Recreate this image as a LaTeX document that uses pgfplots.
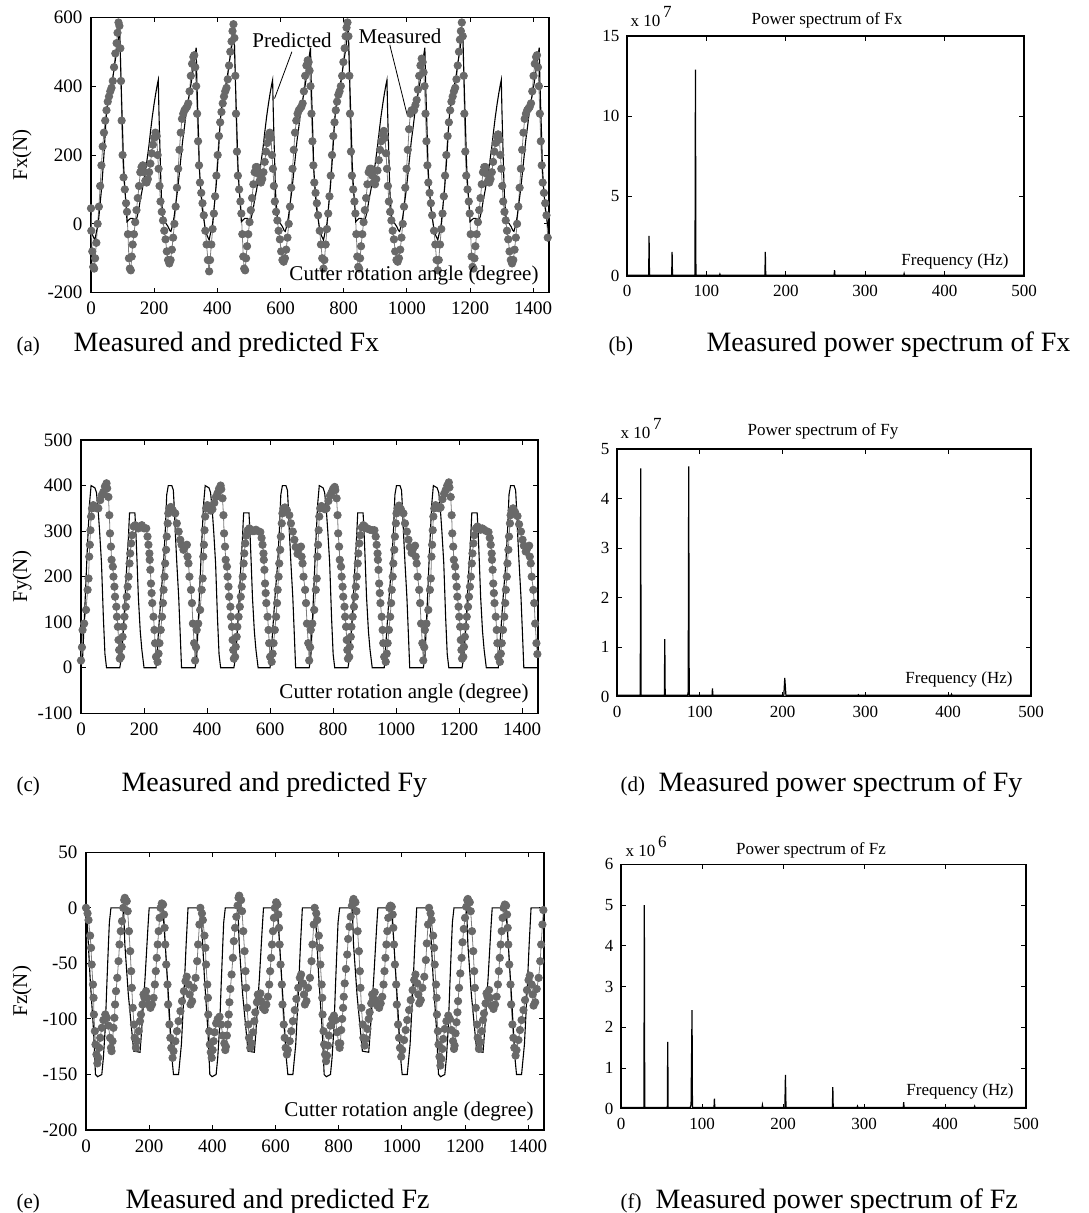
\documentclass[border=0pt]{standalone}
\usepackage{fontspec}
\setmainfont{Liberation Serif}
\usepackage{pgfplots}
\pgfplotsset{compat=1.18}
\definecolor{mgray}{RGB}{105,105,105}
\definecolor{lgray}{RGB}{125,125,125}
\pgfplotsset{
  panel/.style={scale only axis, axis line style={black, line width=1.1pt},
    every tick/.style={black, line width=0.9pt}, tick align=inside, major tick length=5pt,
    xtick pos=both, ytick pos=both, xticklabel pos=lower, yticklabel pos=left,
    /pgf/number format/assume math mode=true, /pgf/number format/1000 sep={}},
  leftp/.style={panel, xmin=0, xmax=1450, xtick={0,200,...,1400},
    ticklabel style={font=\fontsize{19}{19}\selectfont},
    xticklabel style={yshift=-6pt}, yticklabel style={xshift=-5pt}},
  spec/.style={panel, xmin=0, xmax=500, xtick={0,100,...,500}, ymin=0,
    ticklabel style={font=\fontsize{17}{17}\selectfont},
    xticklabel style={yshift=-6pt}, yticklabel style={xshift=-4pt}},
  meas/.style={color=lgray, line width=0.8pt, mark=*, mark size=3.7pt, mark options={fill=mgray, draw=mgray}},
  pred/.style={black, line width=1.1pt, mark=none},
  sp/.style={black, line width=1.2pt, mark=none}
}
\newcommand{\labf}{\fontsize{21}{21}\selectfont}
\newcommand{\capf}{\fontsize{28}{28}\selectfont}
\newcommand{\plabf}{\fontsize{21}{21}\selectfont}
\newcommand{\stx}{\fontsize{17}{17}\selectfont}
\begin{document}
\begin{tikzpicture}
\path[use as bounding box] (0,0) rectangle (1088pt,-1213pt);
% ---------------- (a)
\begin{axis}[leftp, at={(91pt,-292.7pt)}, anchor=south west, width=458pt, height=275.4pt,
  ymin=-200, ymax=600, ytick={-200,0,200,400,600}]
\addplot[meas] coordinates {
(0,45)(1,-20)(4,-80)(7,-125)(10,-130)(13,-100)(17,-55)(21,0)(25,50)(29,110)(33,170)(37,225)(41,265)(45,300)(49,330)(53,355)(57,370)(61,385)(65,395)(69,415)(73,455)(77,495)(81,525)(84,555)(87,585)(90,575)(93,510)(95,415)(97,300)(100,200)(103,135)(107,100)(111,60)(114,35)(117,-30)(120,-100)(123,-130)(126,-135)(129,-95)(132,-60)(136,-30)(140,5)(144,40)(148,75)(152,110)(156,150)(160,165)(164,170)(168,150)(172,125)(176,120)(180,130)(184,150)(188,175)(192,205)(196,230)(200,250)(204,265)(208,255)(211,200)(214,160)(217,110)(220,65)(224,35)(228,10)(232,-20)(236,-45)(240,-80)(244,-105)(248,-115)(252,-105)(256,-75)(260,-40)(264,0)(268,50)(272,105)(276,160)(280,215)(284,265)(288,305)(292,320)(296,330)(300,335)(304,340)(308,350)(312,385)(316,430)(320,465)(324,485)(327,490)(330,455)(333,400)(336,320)(339,240)(342,170)(345,120)(349,90)(353,60)(357,25)
(362,-20)(366,-60)(370,-105)(374,-138)(377,-105)(381,-60)(385,-15)(389,30)(393,80)(397,140)(401,200)(405,255)(409,295)(413,325)(417,350)(421,370)(425,385)(429,395)(433,420)(437,460)(441,500)(445,530)(448,560)(451,580)(454,540)(457,430)(459,320)(462,210)(465,140)(469,100)(473,65)(476,30)(479,-30)(482,-95)(485,-130)(488,-135)(491,-100)(494,-65)(498,-30)(502,5)(506,40)(510,75)(514,115)(518,150)(522,165)(526,165)(530,145)(534,125)(538,120)(542,130)(546,150)(550,180)(554,210)(558,235)(562,255)(566,265)(570,250)(573,200)(576,160)(579,110)(582,65)(586,35)(590,10)(594,-20)(598,-45)(602,-80)(606,-105)(610,-110)(614,-100)(618,-75)(622,-40)(626,0)(630,50)(634,105)(638,160)(642,215)(646,265)(650,300)(654,320)(658,330)(662,335)(666,340)(670,350)(674,385)(678,430)(682,460)(686,475)(689,470)(692,445)(695,400)(698,320)(701,240)(704,170)(707,120)(711,90)(715,60)(719,25)
(724,-20)(728,-60)(732,-100)(736,-130)(739,-105)(743,-60)(747,-15)(751,30)(755,80)(759,140)(763,200)(767,255)(771,295)(775,330)(779,355)(783,375)(787,385)(791,400)(795,430)(799,470)(803,510)(806,545)(809,570)(812,585)(815,545)(818,430)(820,320)(823,210)(826,140)(830,100)(834,65)(837,30)(840,-30)(843,-95)(846,-125)(849,-130)(852,-100)(855,-65)(859,-30)(863,5)(867,40)(871,75)(875,115)(879,150)(883,160)(887,160)(891,140)(895,120)(899,115)(903,130)(907,155)(911,185)(915,215)(919,240)(923,260)(927,270)(931,250)(934,205)(937,160)(940,110)(943,65)(947,35)(951,10)(955,-20)(959,-45)(963,-80)(967,-105)(971,-110)(975,-100)(979,-75)(983,-40)(987,0)(991,50)(995,105)(999,160)(1003,215)(1007,275)(1011,320)(1015,330)(1019,330)(1023,330)(1027,345)(1031,360)(1035,390)(1039,430)(1043,460)(1047,480)(1050,470)(1053,440)(1056,400)(1059,320)(1062,240)(1065,170)(1068,120)(1072,90)(1076,60)(1080,25)
(1086,-20)(1090,-60)(1094,-105)(1098,-135)(1101,-105)(1105,-60)(1109,-15)(1113,30)(1117,80)(1121,140)(1125,200)(1129,255)(1133,295)(1137,330)(1141,355)(1145,370)(1149,385)(1153,395)(1157,420)(1161,460)(1165,500)(1168,535)(1171,560)(1174,585)(1177,545)(1180,430)(1182,320)(1185,210)(1188,140)(1192,100)(1196,65)(1199,30)(1202,-30)(1205,-95)(1208,-125)(1211,-130)(1214,-100)(1217,-65)(1221,-30)(1225,5)(1229,40)(1233,75)(1237,115)(1241,150)(1245,165)(1249,165)(1253,145)(1257,125)(1261,120)(1265,130)(1269,150)(1273,180)(1277,210)(1281,235)(1285,255)(1289,260)(1293,245)(1296,200)(1299,160)(1302,110)(1305,65)(1309,35)(1313,10)(1317,-20)(1321,-45)(1325,-80)(1329,-105)(1333,-115)(1337,-105)(1341,-75)(1345,-40)(1349,0)(1353,50)(1357,105)(1361,160)(1365,215)(1369,265)(1373,305)(1377,320)(1381,330)(1385,335)(1389,340)(1393,350)(1397,385)(1401,430)(1405,465)(1409,485)(1412,490)(1415,455)(1418,400)(1421,320)(1424,240)(1427,170)(1430,120)(1434,90)(1438,60)(1442,25)(1446,-40)
};
\addplot[pred] coordinates {
(0,-18)(6,-35)(12,-47)(18,-20)(23,1)(28,50)(34,108)(38,160)(42,215)(46,280)(50,330)(55,360)(61,389)(66,410)(71,437)(76,470)(82,505)(87,540)(90,568)(92,524)(95,420)(98,330)(101,240)(103,176)(106,120)(109,79)(112,40)(114,6)(119,11)(125,16)(133,16)(137,10)(141,6)(146,20)(151,40)(156,70)(162,98)(167,125)(173,156)(178,190)(183,224)(188,265)(194,311)(200,350)(205,379)(210,405)(213,418)(215,330)(217,260)(219,195)(221,130)(223,79)(226,40)(229,11)(233,5)(237,2)(244,-8)(250,-20)(253,-22)(258,-5)(263,20)(268,55)(274,98)(280,150)(285,195)(290,240)(296,282)(301,320)(306,350)(311,375)(317,408)(322,440)(327,476)(333,512)(335,420)(338,330)(341,240)(343,166)(346,120)(349,79)(352,45)(356,21)
(362,-18)(368,-35)(374,-47)(380,-20)(385,1)(390,50)(396,108)(400,160)(404,215)(408,280)(412,330)(417,360)(423,389)(428,410)(433,437)(438,470)(444,505)(449,540)(452,568)(454,524)(457,420)(460,330)(463,240)(465,176)(468,120)(471,79)(474,40)(476,6)(481,11)(487,16)(495,16)(499,10)(503,6)(508,20)(513,40)(518,70)(524,98)(529,125)(535,156)(540,190)(545,224)(550,265)(556,311)(562,350)(567,379)(572,405)(575,418)(577,330)(579,260)(581,195)(583,130)(585,79)(588,40)(591,11)(595,5)(599,2)(606,-8)(612,-20)(615,-22)(620,-5)(625,20)(630,55)(636,98)(642,150)(647,195)(652,240)(658,282)(663,320)(668,350)(673,375)(679,408)(684,440)(689,476)(695,512)(697,420)(700,330)(703,240)(705,166)(708,120)(711,79)(714,45)(718,21)
(724,-18)(730,-35)(736,-47)(742,-20)(747,1)(752,50)(758,108)(762,160)(766,215)(770,280)(774,330)(779,360)(785,389)(790,410)(795,437)(800,470)(806,505)(811,540)(814,568)(816,524)(819,420)(822,330)(825,240)(827,176)(830,120)(833,79)(836,40)(838,6)(843,11)(849,16)(857,16)(861,10)(865,6)(870,20)(875,40)(880,70)(886,98)(891,125)(897,156)(902,190)(907,224)(912,265)(918,311)(924,350)(929,379)(934,405)(937,418)(939,330)(941,260)(943,195)(945,130)(947,79)(950,40)(953,11)(957,5)(961,2)(968,-8)(974,-20)(977,-22)(982,-5)(987,20)(992,55)(998,98)(1004,150)(1009,195)(1014,240)(1020,282)(1025,320)(1030,350)(1035,375)(1041,408)(1046,440)(1051,476)(1057,512)(1059,420)(1062,330)(1065,240)(1067,166)(1070,120)(1073,79)(1076,45)(1080,21)
(1086,-18)(1092,-35)(1098,-47)(1104,-20)(1109,1)(1114,50)(1120,108)(1124,160)(1128,215)(1132,280)(1136,330)(1141,360)(1147,389)(1152,410)(1157,437)(1162,470)(1168,505)(1173,540)(1176,568)(1178,524)(1181,420)(1184,330)(1187,240)(1189,176)(1192,120)(1195,79)(1198,40)(1200,6)(1205,11)(1211,16)(1219,16)(1223,10)(1227,6)(1232,20)(1237,40)(1242,70)(1248,98)(1253,125)(1259,156)(1264,190)(1269,224)(1274,265)(1280,311)(1286,350)(1291,379)(1296,405)(1299,418)(1301,330)(1303,260)(1305,195)(1307,130)(1309,79)(1312,40)(1315,11)(1319,5)(1323,2)(1330,-8)(1336,-20)(1339,-22)(1344,-5)(1349,20)(1354,55)(1360,98)(1366,150)(1371,195)(1376,240)(1382,282)(1387,320)(1392,350)(1397,375)(1403,408)(1408,440)(1413,476)(1419,512)(1421,420)(1424,330)(1427,240)(1429,166)(1432,120)(1435,79)(1438,45)(1442,21)(1448,-18)
};
\draw[black, line width=0.8pt] (axis cs:636,500) -- (axis cs:581,364);
\draw[black, line width=0.8pt] (axis cs:946,520) -- (axis cs:1000,320);
\end{axis}
\node[font=\labf] at (292pt,-40.7pt) {Predicted};
\node[font=\labf] at (400pt,-36pt) {Measured};
\node[font=\labf, anchor=east] at (542pt,-275pt) {Cutter rotation angle (degree)};
\node[font=\labf, rotate=90] at (22pt,-155pt) {Fx(N)};
% ---------------- (b)
\begin{axis}[spec, at={(627pt,-276pt)}, anchor=south west, width=397pt, height=240pt,
  ymax=15, ytick={0,5,10,15}]
\addplot[sp] coordinates {(0,0.05)(27.3,0.05)(27.8,2.5)(28.3,0.05)(56.3,0.05)(56.8,1.5)(57.3,0.05)(85.6,0.05)(86.2,12.9)(86.8,0.05)(116.5,0.05)(117,0.12)(117.5,0.05)(173.7,0.05)(174.2,1.5)(174.7,0.05)(260.9,0.05)(261.4,0.37)(261.9,0.05)(348.5,0.05)(349,0.15)(349.5,0.05)(500,0.05)};
\end{axis}
\node[font=\stx, anchor=base west] at (627pt,-26pt) {x 10\,\raisebox{9pt}{7}};
\node[font=\stx] at (827pt,-20pt) {Power spectrum of Fx};
\node[font=\stx] at (955pt,-261pt) {Frequency (Hz)};
% ---------------- (c)
\begin{axis}[leftp, at={(81pt,-713.3pt)}, anchor=south west, width=457pt, height=273.3pt,
  ymin=-100, ymax=500, ytick={-100,0,...,500}]
\addplot[meas] coordinates {
(0,16)(3,45)(5,83)(10,97)(16,127)(21,171)(24,196)(26,244)(28,270)(30,302)(32,332)(35,350)(39,357)(44,354)(50,350)(55,350)(61,368)(66,379)(71,386)(76,398)(81,405)(83,394)(87,375)(90,335)(92,295)(95,266)(97,237)(101,222)(103,200)(106,178)(108,156)(112,134)(114,112)(117,90)(119,61)(121,39)(123,20)(127,24)(129,46)(132,68)(134,90)(138,112)(142,134)(145,156)(148,178)(151,200)(154,229)(156,251)(159,273)(162,291)(167,310)(172,313)(177,310)(182,306)(187,310)(193,313)(200,306)(207,306)(211,288)(214,270)(217,251)(218,237)(220,215)(222,185)(224,164)(226,142)(230,112)(233,83)(235,54)(238,24)(243,13)(246,31)(249,54)(253,83)(257,112)(260,142)(262,171)(265,200)(267,229)(270,259)(272,288)(275,317)(277,339)(280,350)(285,353)(291,346)(299,339)(304,317)(310,299)(315,281)(319,270)(325,259)(330,266)(336,270)(338,244)(341,229)(344,200)(349,171)(352,142)(355,97)(359,54)
(362,16)(365,45)(367,83)(372,97)(378,127)(383,171)(386,196)(388,244)(390,270)(392,302)(394,332)(397,350)(401,357)(406,352)(412,345)(417,348)(423,362)(428,375)(433,383)(438,393)(443,400)(445,392)(449,372)(452,335)(454,295)(457,266)(459,237)(463,222)(465,200)(468,178)(470,156)(474,134)(476,112)(479,90)(481,61)(483,39)(485,20)(489,24)(491,46)(494,68)(496,90)(500,112)(504,134)(507,156)(510,178)(513,200)(516,229)(518,251)(521,273)(524,290)(529,302)(534,306)(539,303)(544,300)(549,300)(555,303)(562,300)(569,298)(573,285)(576,270)(579,251)(580,237)(582,215)(584,185)(586,164)(588,142)(592,112)(595,83)(597,54)(600,24)(605,13)(608,31)(611,54)(615,83)(619,112)(622,142)(624,171)(627,200)(629,229)(632,259)(634,288)(637,317)(639,339)(642,350)(647,352)(653,346)(661,335)(666,317)(672,299)(677,281)(681,265)(687,250)(692,262)(698,266)(700,244)(703,229)(706,200)(711,171)(714,142)(717,97)(721,54)
(724,16)(727,45)(729,83)(734,97)(740,127)(745,171)(748,196)(750,244)(752,270)(754,302)(756,332)(759,350)(763,355)(768,352)(774,348)(779,350)(785,366)(790,378)(795,385)(800,393)(805,397)(807,390)(811,372)(814,335)(816,295)(819,266)(821,237)(825,222)(827,200)(830,178)(832,156)(836,134)(838,112)(841,90)(843,61)(845,39)(847,20)(851,24)(853,46)(856,68)(858,90)(862,112)(866,134)(869,156)(872,178)(875,200)(878,229)(880,251)(883,273)(886,291)(891,308)(896,313)(901,310)(906,306)(911,305)(917,303)(924,302)(931,302)(935,288)(938,270)(941,251)(942,237)(944,215)(946,185)(948,164)(950,142)(954,112)(957,83)(959,54)(962,24)(967,13)(970,31)(973,54)(977,83)(981,112)(984,142)(986,171)(989,200)(991,229)(994,259)(996,288)(999,317)(1001,339)(1004,350)(1009,356)(1015,348)(1023,339)(1028,317)(1034,299)(1039,281)(1043,265)(1049,252)(1054,262)(1060,268)(1062,244)(1065,229)(1068,200)(1073,171)(1076,142)(1079,97)(1083,54)
(1086,16)(1089,45)(1091,83)(1096,97)(1102,127)(1107,171)(1110,196)(1112,244)(1114,270)(1116,302)(1118,332)(1121,350)(1125,357)(1130,354)(1136,350)(1141,352)(1147,370)(1152,382)(1157,390)(1162,400)(1167,407)(1169,396)(1173,375)(1176,335)(1178,295)(1181,266)(1183,237)(1187,222)(1189,200)(1192,178)(1194,156)(1198,134)(1200,112)(1203,90)(1205,61)(1207,39)(1209,20)(1213,24)(1215,46)(1218,68)(1220,90)(1224,112)(1228,134)(1231,156)(1234,178)(1237,200)(1240,229)(1242,251)(1245,273)(1248,291)(1253,306)(1258,310)(1263,306)(1268,303)(1273,306)(1279,303)(1286,300)(1293,298)(1297,285)(1300,270)(1303,251)(1304,237)(1306,215)(1308,185)(1310,164)(1312,142)(1316,112)(1319,83)(1321,54)(1324,24)(1329,13)(1332,31)(1335,54)(1339,83)(1343,112)(1346,142)(1348,171)(1351,200)(1353,229)(1356,259)(1358,288)(1361,317)(1363,335)(1366,345)(1371,350)(1377,342)(1385,333)(1390,315)(1396,299)(1401,281)(1405,268)(1411,255)(1416,262)(1422,268)(1424,244)(1427,229)(1430,200)(1435,171)(1438,142)(1441,97)(1445,54)(1448,30)
};
\addplot[pred] coordinates {
(0,0)(5,20)(12,130)(20,260)(27,360)(32,400)(44,395)(49,385)(54,350)(59,300)(65,230)(71,110)(76,30)(81,0)(123,0)(129,25)(135,90)(140,155)(145,220)(150,280)(154,340)(171,340)(174,300)(178,230)(182,155)(188,80)(193,40)(200,0)(238,0)(246,80)(254,160)(262,230)(268,310)(272,380)(277,400)(288,400)(293,390)(296,350)(299,300)(304,230)(310,155)(315,70)(319,0)
(362,0)(367,20)(374,130)(382,260)(389,360)(394,400)(406,395)(411,385)(416,350)(421,300)(427,230)(433,110)(438,30)(443,0)(485,0)(491,25)(497,90)(502,155)(507,220)(512,280)(516,340)(533,340)(536,300)(540,230)(544,155)(550,80)(555,40)(562,0)(600,0)(608,80)(616,160)(624,230)(630,310)(634,380)(639,400)(650,400)(655,390)(658,350)(661,300)(666,230)(672,155)(677,70)(681,0)
(724,0)(729,20)(736,130)(744,260)(751,360)(756,400)(768,395)(773,385)(778,350)(783,300)(789,230)(795,110)(800,30)(805,0)(847,0)(853,25)(859,90)(864,155)(869,220)(874,280)(878,340)(895,340)(898,300)(902,230)(906,155)(912,80)(917,40)(924,0)(962,0)(970,80)(978,160)(986,230)(992,310)(996,380)(1001,400)(1012,400)(1017,390)(1020,350)(1023,300)(1028,230)(1034,155)(1039,70)(1043,0)
(1086,0)(1091,20)(1098,130)(1106,260)(1113,360)(1118,400)(1130,395)(1135,385)(1140,350)(1145,300)(1151,230)(1157,110)(1162,30)(1167,0)(1209,0)(1215,25)(1221,90)(1226,155)(1231,220)(1236,280)(1240,340)(1257,340)(1260,300)(1264,230)(1268,155)(1274,80)(1279,40)(1286,0)(1324,0)(1332,80)(1340,160)(1348,230)(1354,310)(1358,380)(1363,400)(1374,400)(1379,390)(1382,350)(1385,300)(1390,230)(1396,155)(1401,70)(1405,0)(1448,0)
};
\end{axis}
\node[font=\labf, anchor=east] at (532pt,-693pt) {Cutter rotation angle (degree)};
\node[font=\labf, rotate=90] at (22pt,-576.6pt) {Fy(N)};
% ---------------- (d)
\begin{axis}[spec, at={(617pt,-696.7pt)}, anchor=south west, width=414pt, height=247.7pt,
  ymax=5, ytick={0,1,...,5}]
\addplot[sp] coordinates {(0,0.03)(28.1,0.03)(28.6,4.61)(29.1,0.03)(57.2,0.03)(57.7,1.16)(58.2,0.03)(85.3,0.03)(86.0,0.1)(86.6,4.65)(87.2,0.03)(114.8,0.03)(115.3,0.17)(115.8,0.03)(201.5,0.03)(202.6,0.38)(204,0.03)(291,0.03)(291.5,0.04)(292,0.03)(403.5,0.03)(404,0.05)(404.5,0.03)(500,0.03)};
\end{axis}
\node[font=\stx, anchor=base west] at (617pt,-438pt) {x 10\,\raisebox{9pt}{7}};
\node[font=\stx] at (823pt,-431pt) {Power spectrum of Fy};
\node[font=\stx] at (959pt,-679pt) {Frequency (Hz)};
% ---------------- (e)
\begin{axis}[leftp, at={(86pt,-1130pt)}, anchor=south west, width=458pt, height=277.7pt,
  ymin=-200, ymax=50, ytick={-200,-150,...,50}]
\addplot[meas] coordinates {
(0,0)(5,-5)(8,-11)(13,-25)(16,-36)(18,-51)(22,-69)(24,-81)(25,-96)(28,-111)(30,-123)(33,-132)(36,-140)(39,-135)(42,-126)(45,-117)(50,-108)(55,-101)(61,-96)(66,-99)(71,-106)(76,-117)(79,-126)(81,-129)(84,-120)(87,-108)(90,-99)(92,-87)(95,-75)(99,-63)(103,-48)(106,-33)(110,-21)(114,-12)(118,0)(121,7)(123,9)(129,6)(132,-3)(136,-21)(140,-39)(143,-57)(145,-72)(148,-90)(152,-105)(154,-117)(158,-126)(162,-120)(167,-111)(171,-102)(174,-96)(179,-87)(182,-78)(185,-81)(190,-75)(193,-81)(198,-87)(204,-90)(209,-87)(214,-81)(218,-69)(221,-57)(224,-45)(227,-33)(230,-21)(233,-9)(236,0)(240,4)(244,3)(247,-6)(249,-18)(251,-33)(254,-51)(258,-69)(260,-87)(264,-105)(267,-117)(270,-126)(274,-135)(277,-129)(283,-120)(288,-111)(293,-102)(299,-93)(304,-84)(310,-75)(315,-66)(319,-62)(325,-69)(328,-78)(331,-87)(336,-84)(341,-72)(347,-63)(352,-48)(355,-33)(359,-15)
(362,0)(367,-5)(370,-11)(375,-25)(378,-36)(380,-51)(384,-69)(386,-81)(387,-96)(390,-111)(392,-123)(395,-130)(398,-135)(401,-128)(404,-120)(407,-112)(412,-104)(417,-100)(423,-98)(428,-105)(433,-115)(438,-122)(441,-128)(443,-125)(446,-115)(449,-105)(452,-96)(454,-85)(457,-73)(461,-60)(465,-45)(468,-30)(472,-18)(476,-8)(480,2)(483,9)(485,11)(491,7)(494,-3)(498,-21)(502,-39)(505,-57)(507,-72)(510,-90)(514,-105)(516,-117)(520,-126)(524,-122)(529,-112)(533,-102)(536,-94)(541,-85)(544,-78)(547,-82)(552,-77)(555,-84)(560,-90)(566,-92)(571,-87)(576,-80)(580,-69)(583,-57)(586,-45)(589,-33)(592,-21)(595,-9)(598,0)(602,5)(606,3)(609,-6)(611,-18)(613,-33)(616,-51)(620,-69)(622,-87)(626,-105)(629,-117)(632,-126)(636,-132)(639,-128)(645,-120)(650,-111)(655,-102)(661,-92)(666,-82)(672,-72)(677,-63)(681,-60)(687,-68)(690,-78)(693,-87)(698,-84)(703,-72)(709,-63)(714,-48)(717,-33)(721,-15)
(724,0)(729,-5)(732,-11)(737,-25)(740,-36)(742,-51)(746,-69)(748,-81)(749,-96)(752,-111)(754,-123)(757,-132)(760,-138)(763,-133)(766,-124)(769,-115)(774,-106)(779,-100)(785,-97)(790,-101)(795,-112)(800,-122)(803,-126)(805,-122)(808,-110)(811,-100)(814,-90)(816,-80)(819,-68)(823,-55)(827,-42)(830,-28)(834,-17)(838,-8)(842,2)(845,6)(847,8)(853,5)(856,-3)(860,-21)(864,-39)(867,-57)(869,-72)(872,-90)(876,-105)(878,-117)(882,-124)(886,-118)(891,-109)(895,-100)(898,-94)(903,-86)(906,-78)(909,-82)(914,-76)(917,-83)(922,-88)(928,-90)(933,-86)(938,-80)(942,-69)(945,-57)(948,-45)(951,-33)(954,-21)(957,-9)(960,0)(964,2)(968,1)(971,-6)(973,-18)(975,-33)(978,-51)(982,-69)(984,-87)(988,-105)(991,-117)(994,-126)(998,-134)(1001,-128)(1007,-119)(1012,-110)(1017,-101)(1023,-92)(1028,-83)(1034,-74)(1039,-65)(1043,-60)(1049,-68)(1052,-78)(1055,-86)(1060,-83)(1065,-72)(1071,-62)(1076,-47)(1079,-32)(1083,-15)
(1086,0)(1091,-5)(1094,-11)(1099,-25)(1102,-36)(1104,-51)(1108,-69)(1110,-81)(1111,-96)(1114,-111)(1116,-123)(1119,-134)(1122,-142)(1125,-136)(1128,-127)(1131,-118)(1136,-109)(1141,-102)(1147,-97)(1152,-100)(1157,-110)(1162,-120)(1165,-127)(1167,-124)(1170,-113)(1173,-103)(1176,-94)(1178,-84)(1181,-72)(1185,-59)(1189,-45)(1192,-31)(1196,-19)(1200,-9)(1204,1)(1207,7)(1209,8)(1215,5)(1218,-3)(1222,-21)(1226,-39)(1229,-57)(1231,-72)(1234,-90)(1238,-105)(1240,-117)(1244,-127)(1248,-121)(1253,-111)(1257,-101)(1260,-95)(1265,-86)(1268,-77)(1271,-80)(1276,-74)(1279,-81)(1284,-88)(1290,-91)(1295,-87)(1300,-80)(1304,-69)(1307,-57)(1310,-45)(1313,-33)(1316,-21)(1319,-9)(1322,0)(1326,3)(1330,2)(1333,-6)(1335,-18)(1337,-33)(1340,-51)(1344,-69)(1346,-87)(1350,-105)(1353,-117)(1356,-126)(1360,-133)(1363,-128)(1369,-119)(1374,-110)(1379,-101)(1385,-92)(1390,-83)(1396,-74)(1401,-65)(1405,-61)(1411,-69)(1414,-78)(1417,-88)(1422,-85)(1427,-73)(1433,-63)(1438,-48)(1441,-33)(1445,-15)(1448,-2)
};
\addplot[pred] coordinates {
(0,0)(2,-3)(13,-63)(24,-111)(30,-150)(37,-152)(50,-150)(55,-135)(61,-108)(66,-69)(71,-33)(74,-13)(79,0)(119,0)(123,-33)(134,-78)(145,-111)(151,-129)(171,-130)(176,-111)(187,-63)(196,-18)(200,0)(243,0)(251,-33)(262,-84)(272,-135)(277,-150)(293,-150)(302,-123)(310,-78)(317,-33)(323,0)
(362,0)(364,-3)(375,-63)(386,-111)(392,-150)(399,-152)(412,-150)(417,-135)(423,-108)(428,-69)(433,-33)(436,-13)(441,0)(481,0)(485,-33)(496,-78)(507,-111)(513,-129)(533,-130)(538,-111)(549,-63)(558,-18)(562,0)(605,0)(613,-33)(624,-84)(634,-135)(639,-150)(655,-150)(664,-123)(672,-78)(679,-33)(685,0)
(724,0)(726,-3)(737,-63)(748,-111)(754,-150)(761,-152)(774,-150)(779,-135)(785,-108)(790,-69)(795,-33)(798,-13)(803,0)(843,0)(847,-33)(858,-78)(869,-111)(875,-129)(895,-130)(900,-111)(911,-63)(920,-18)(924,0)(967,0)(975,-33)(986,-84)(996,-135)(1001,-150)(1017,-150)(1026,-123)(1034,-78)(1041,-33)(1047,0)
(1086,0)(1088,-3)(1099,-63)(1110,-111)(1116,-150)(1123,-152)(1136,-150)(1141,-135)(1147,-108)(1152,-69)(1157,-33)(1160,-13)(1165,0)(1205,0)(1209,-33)(1220,-78)(1231,-111)(1237,-129)(1257,-130)(1262,-111)(1273,-63)(1282,-18)(1286,0)(1329,0)(1337,-33)(1348,-84)(1358,-135)(1363,-150)(1379,-150)(1388,-123)(1396,-78)(1403,-33)(1409,0)(1448,0)
};
\end{axis}
\node[font=\labf, anchor=east] at (537pt,-1111pt) {Cutter rotation angle (degree)};
\node[font=\labf, rotate=90] at (22pt,-991pt) {Fz(N)};
% ---------------- (f)
\begin{axis}[spec, at={(621pt,-1108.7pt)}, anchor=south west, width=405pt, height=244.4pt,
  ymax=6, ytick={0,1,...,6}]
\addplot[sp] coordinates {(0,0.03)(28.3,0.03)(28.8,5.0)(29.3,0.03)(57.2,0.03)(57.7,1.64)(58.2,0.03)(85.5,0.03)(86.5,0.1)(87.7,2.42)(88.2,0.03)(114.8,0.03)(115.3,0.25)(115.8,0.03)(174.1,0.03)(174.6,0.09)(175.1,0.03)(202.3,0.03)(203,0.83)(203.7,0.03)(261,0.03)(261.5,0.53)(262,0.03)(291.5,0.03)(292,0.06)(292.5,0.03)(348.5,0.03)(349,0.16)(349.5,0.03)(436,0.03)(436.6,0.06)(437,0.03)(500,0.03)};
\end{axis}
\node[font=\stx, anchor=base west] at (622pt,-856pt) {x 10\,\raisebox{9pt}{6}};
\node[font=\stx] at (811pt,-850pt) {Power spectrum of Fz};
\node[font=\stx] at (960pt,-1091pt) {Frequency (Hz)};
% ---------------- captions
\node[font=\plabf, anchor=base west] at (13pt,-351pt) {(a)};
\node[font=\capf, anchor=base west] at (70pt,-351pt) {Measured and predicted Fx};
\node[font=\plabf, anchor=base west] at (605pt,-351pt) {(b)};
\node[font=\capf, anchor=base west] at (703pt,-351pt) {Measured power spectrum of Fx};
\node[font=\plabf, anchor=base west] at (13pt,-791pt) {(c)};
\node[font=\capf, anchor=base west] at (118pt,-791pt) {Measured and predicted Fy};
\node[font=\plabf, anchor=base west] at (617pt,-791pt) {(d)};
\node[font=\capf, anchor=base west] at (655pt,-791pt) {Measured power spectrum of Fy};
\node[font=\plabf, anchor=base west] at (13pt,-1208pt) {(e)};
\node[font=\capf, anchor=base west] at (122pt,-1208pt) {Measured and predicted Fz};
\node[font=\plabf, anchor=base west] at (617pt,-1208pt) {(f)};
\node[font=\capf, anchor=base west] at (652pt,-1208pt) {Measured power spectrum of Fz};
\end{tikzpicture}
\end{document}
